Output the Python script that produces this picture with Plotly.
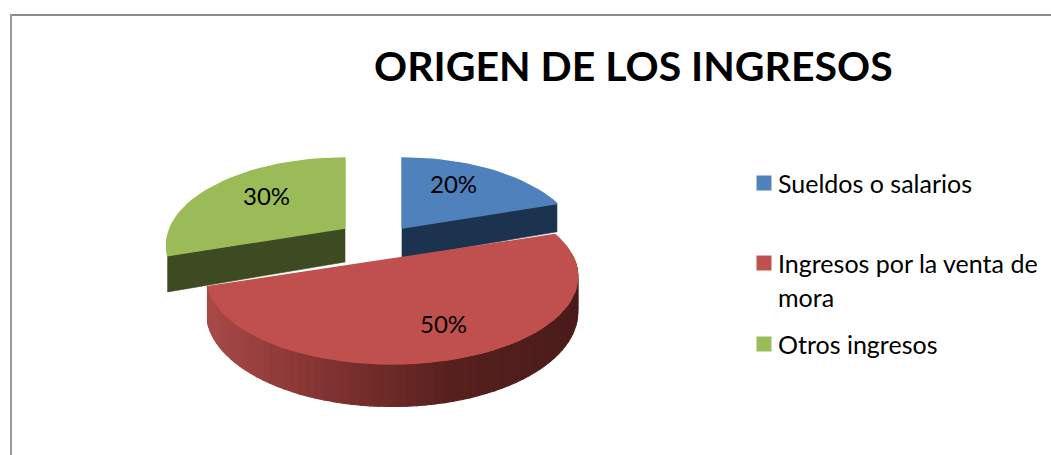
import math
import plotly.graph_objects as go

TITLE = "ORIGEN DE LOS INGRESOS"
CATEGORIES = ["Sueldos o salarios", "Ingresos por la venta de mora", "Otros ingresos"]
VALUES = [20, 50, 30]

FONT = "Lato"
TOP_COLORS = ["#4F81BD", "#C0504D", "#9BBB59"]
SIDE_COLORS = ["#1C334F", None, "#3E4A21"]
# slice geometry in pixels: centre x, centre y, half width
SLICE_GEOM = [(402, 228, 173), (392, 259, 182), (345, 228, 175)]
SLICE_DEPTH = [30.0, 34.0, 34.0]
B = 84.0
K = 0.2
LABEL_POS = [(453, 183), (443, 323), (266, 195)]
LEGEND_KEY_Y = [183, 263, 344]
LEGEND_LINES = [["Sueldos o salarios"], ["Ingresos por la venta de", "mora"], ["Otros ingresos"]]
LINE_GAP = 34


def project(geom, deg, depth=0.0):
    cx, cy, a = geom
    t = math.radians(deg)
    u, v = math.sin(t), -math.cos(t)
    s = 1 / (1 - K * v)
    return cx + a * u * s, cy + B * v * s + depth * s


def poly(fig, pts, color, width=0.6):
    xs = [p[0] for p in pts] + [pts[0][0]]
    ys = [p[1] for p in pts] + [pts[0][1]]
    fig.add_trace(go.Scatter(x=xs, y=ys, mode="lines", fill="toself", fillcolor=color,
                             line=dict(color=color, width=width), hoverinfo="skip",
                             showlegend=False))


def lerp_hex(stops, f):
    f = min(max(f, 0), 1) * (len(stops) - 1)
    i = min(int(f), len(stops) - 2)
    g = f - i
    c = [round(stops[i][j] + (stops[i + 1][j] - stops[i][j]) * g) for j in range(3)]
    return "rgb({},{},{})".format(*c)


fig = go.Figure()

total = sum(VALUES)
angles = [0]
for v in VALUES:
    angles.append(angles[-1] + 360 * v / total)

RED_SIDE = [(168, 74, 72), (128, 50, 48), (86, 32, 30), (74, 28, 27)]

for i in [2, 0, 1]:
    geom = SLICE_GEOM[i]
    depth = SLICE_DEPTH[i]
    start, end = angles[i], angles[i + 1]
    steps = max(2, int((end - start) / 3))
    arc = [start + (end - start) * k / steps for k in range(steps + 1)]
    cx, cy, _ = geom
    if i == 1:
        # outer wall: only the part facing the viewer, darkening left to right
        seg = 70
        w0 = start + 14
        wall = [w0 + (end - w0) * k / seg for k in range(seg + 1)]
        for k in range(seg - 1, -1, -1):
            a0, a1 = wall[k], wall[k + 1]
            p0, p1 = project(geom, a0), project(geom, a1)
            q1, q0 = project(geom, a1, depth), project(geom, a0, depth)
            f = ((p0[0] + p1[0]) / 2 - (geom[0] - 184)) / 370
            poly(fig, [p0, p1, q1, q0], lerp_hex(RED_SIDE, f), width=1.2)
    elif i == 0:
        c = project(geom, end)
        cd = project(geom, end, depth)
        poly(fig, [(cx, cy), c, cd, (cx, cy + depth)], SIDE_COLORS[0])
    else:
        c = project(geom, start)
        cd = project(geom, start, depth)
        poly(fig, [(cx, cy), c, cd, (cx, cy + depth)], SIDE_COLORS[2])
    poly(fig, [(cx, cy)] + [project(geom, a) for a in arc], TOP_COLORS[i], width=1.4)

# legend keys
fig.add_trace(go.Scatter(x=[764] * 3, y=LEGEND_KEY_Y, mode="markers",
                         marker=dict(symbol="square", size=15, color=TOP_COLORS, line=dict(width=0)),
                         hoverinfo="skip", showlegend=False))

annotations = []
for v, (x, y) in zip(VALUES, LABEL_POS):
    annotations.append(dict(x=x, y=y, xref="x", yref="y", text=f"{v}%", showarrow=False,
                            font=dict(family=FONT, size=24, color="#000000")))
for lines, ky in zip(LEGEND_LINES, LEGEND_KEY_Y):
    for j, line in enumerate(lines):
        annotations.append(dict(x=776, y=ky + j * LINE_GAP - 0.5, xref="x", yref="y", text=line,
                                xanchor="left", showarrow=False,
                                font=dict(family=FONT, size=25, color="#000000")))
annotations.append(dict(x=633, y=65, xref="x", yref="y", text=f"<b>{TITLE}</b>", showarrow=False,
                        font=dict(family=FONT, size=41, color="#000000")))

shapes = [
    dict(type="line", xref="x", yref="y", x0=11, x1=1051, y0=15, y1=15, line=dict(color="#8C8C8C", width=2)),
    dict(type="line", xref="x", yref="y", x0=11, x1=11, y0=14, y1=455, line=dict(color="#9A9A9A", width=2)),
]

fig.update_layout(
    width=1051, height=455, margin=dict(l=0, r=0, t=0, b=0),
    paper_bgcolor="#FFFFFF", plot_bgcolor="#FFFFFF", showlegend=False,
    xaxis=dict(range=[0, 1051], visible=False, fixedrange=True),
    yaxis=dict(range=[455, 0], visible=False, fixedrange=True),
    annotations=annotations, shapes=shapes,
)
fig.write_html("out.html", config={"displayModeBar": False},
               post_script="document.body.style.margin='0';")
